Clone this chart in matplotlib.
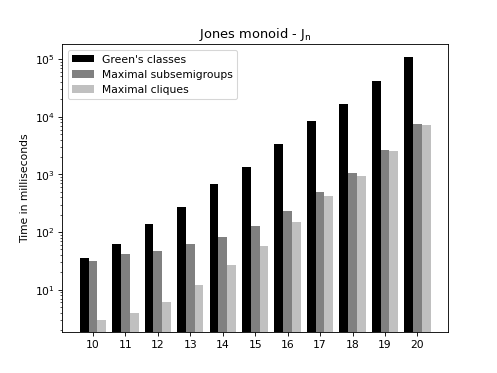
import numpy as np
import matplotlib
matplotlib.use("Agg")
import matplotlib.pyplot as plt

# degree n of the Jones monoid
n_values = [10, 11, 12, 13, 14, 15, 16, 17, 18, 19, 20]

# timings in milliseconds
greens_classes = [36, 61, 140, 275, 670, 1330, 3300, 8300, 16500, 42000, 107000]
max_subsemigroups = [32, 42, 46, 63, 83, 125, 230, 500, 1050, 2700, 7400]
max_cliques = [3.0, 4.0, 6.2, 12, 27, 58, 150, 420, 950, 2500, 7100]

fig, ax = plt.subplots(figsize=(6.4, 4.8), dpi=77.8)

x = np.array(n_values)
w = 0.27
ax.bar(x - w, greens_classes, w, color="black", label="Green's classes")
ax.bar(x, max_subsemigroups, w, color="#808080", label="Maximal subsemigroups")
ax.bar(x + w, max_cliques, w, color="#c0c0c0", label="Maximal cliques")

ax.set_yscale("log")
ax.set_ylim(1.85, 1.8e5)
ax.set_xticks(n_values)
ax.set_ylabel("Time in milliseconds")
ax.set_title(r"Jones monoid - J$_\mathregular{n}$")
ax.legend(loc="upper left")

fig.savefig("out.png", dpi=77.8)
